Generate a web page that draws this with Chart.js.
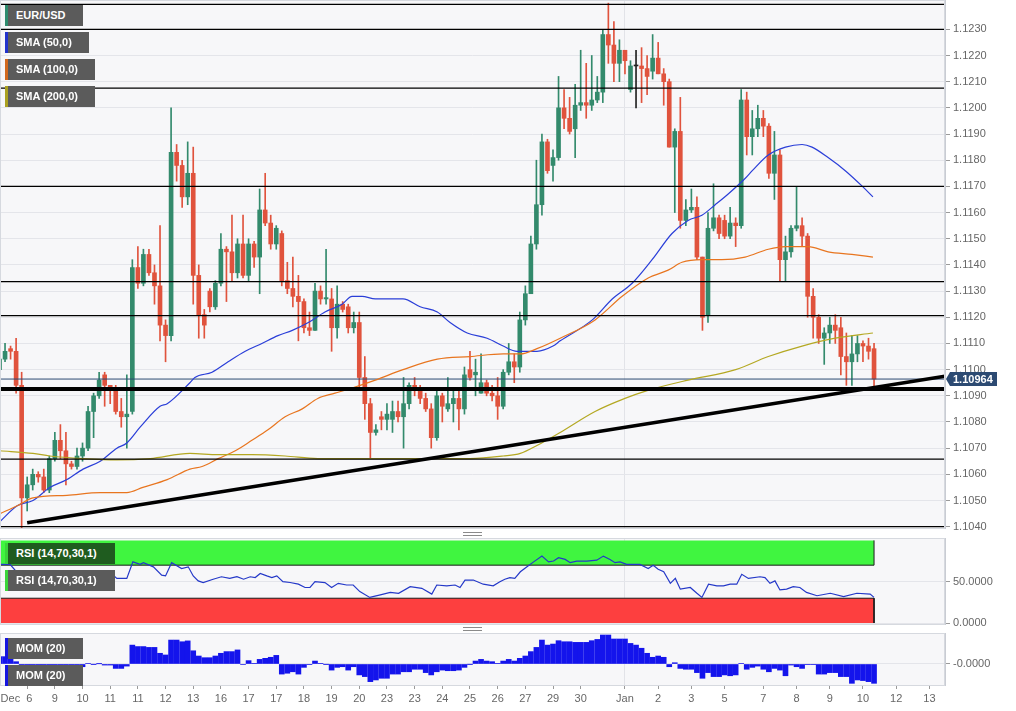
<!DOCTYPE html>
<html><head>
<meta charset="UTF-8">
<title>EUR/USD 4H with SMA, RSI and MOM</title>
<script src="https://cdn.jsdelivr.net/npm/chart.js"></script>
<style>
  body { margin: 0; background: #fff; font-family: 'Liberation Sans', Arial, sans-serif; }
  #wrap { position: relative; width: 1016px; height: 711px; overflow: hidden; }
  #wrap canvas { position: absolute; left: 0; }
  .tag {
    position: absolute; left: 5px; height: 21px; line-height: 21px;
    padding-left: 8px; box-sizing: border-box; border-left: 3px solid;
    background: #5b5b5b; color: #fff; font-size: 11px; font-weight: bold;
    white-space: nowrap; z-index: 2;
  }
  .grip { position: absolute; left: 463px; width: 19px; height: 2px;
    border-top: 1px solid #8a8a8a; border-bottom: 1px solid #8a8a8a; }
</style>
</head>
<body>
<div id="wrap">
  <canvas id="mainChart" width="1016" height="536" style="top:0"></canvas>
  <canvas id="rsiChart" width="1016" height="100" style="top:532px"></canvas>
  <canvas id="momChart" width="1016" height="84" style="top:627px"></canvas>

  <div class="tag" style="top:5px;width:78px;border-color:#2e8b6e">EUR/USD</div>
  <div class="tag" style="top:32px;width:84px;border-color:#2233cc">SMA (50,0)</div>
  <div class="tag" style="top:59px;width:90px;border-color:#d2691e">SMA (100,0)</div>
  <div class="tag" style="top:86px;width:90px;border-color:#aaa020">SMA (200,0)</div>

  <div class="grip" style="top:532px"></div>
  <div class="tag" style="top:543px;width:110px;border-color:#3ad43a;background:#1f5c1f">RSI (14,70,30,1)</div>
  <div class="tag" style="top:570px;width:110px;border-color:#3ad43a">RSI (14,70,30,1)</div>

  <div class="grip" style="top:627px"></div>
  <div class="tag" style="top:638px;width:78px;border-color:#1515e0">MOM (20)</div>
  <div class="tag" style="top:665px;width:78px;border-color:#1515e0">MOM (20)</div>
</div>

<script>
// 4H candles, Dec 6 .. Jan 10
const candleOpen = [
  1.1100,1.1104,1.1108,1.1107,1.1094,1.1051,1.1056,1.1060,1.1059,1.1054,
  1.1066,1.1073,1.1069,1.1064,1.1063,1.1067,1.1070,1.1084,1.1090,1.1098,
  1.1094,1.1093,1.1084,1.1082,1.1084,1.1139,1.1133,1.1144,1.1137,1.1132,
  1.1117,1.1113,1.1183,1.1178,1.1166,1.1175,1.1136,1.1121,1.1130,1.1124,
  1.1133,1.1146,1.1145,1.1137,1.1148,1.1136,1.1148,1.1143,1.1161,1.1156,
  1.1148,1.1152,1.1134,1.1131,1.1128,1.1126,1.1116,1.1115,1.1130,1.1127,
  1.1127,1.1116,1.1125,1.1124,1.1116,1.1118,1.1097,1.1087,1.1076,1.1082,
  1.1081,1.1081,1.1084,1.1082,1.1087,1.1094,1.1092,1.1089,1.1085,1.1074,
  1.1090,1.1085,1.1087,1.1089,1.1085,1.1100,1.1098,1.1091,1.1095,1.1091,
  1.1090,1.1086,1.1099,1.1103,1.1101,1.1119,1.1129,1.1148,1.1163,1.1187,
  1.1178,1.1181,1.1200,1.1196,1.1192,1.1201,1.1202,1.1201,1.1203,1.1206,
  1.1228,1.1224,1.1217,1.1222,1.1207,1.1216,1.1216,1.1215,1.1214,1.1219,
  1.1213,1.1210,1.1185,1.1191,1.1157,1.1161,1.1162,1.1143,1.1121,1.1154,
  1.1158,1.1157,1.1151,1.1156,1.1155,1.1203,1.1189,1.1192,1.1196,1.1193,
  1.1175,1.1182,1.1142,1.1145,1.1154,1.1155,1.1151,1.1128,1.1120,1.1112,
  1.1114,1.1117,1.1116,1.1105,1.1103,1.1106,1.1110,1.1109,1.1108
];
const candleHigh = [
  1.1106,1.1110,1.1109,1.1112,1.1099,1.1059,1.1062,1.1061,1.1062,1.1067,
  1.1076,1.1079,1.1076,1.1065,1.1070,1.1072,1.1086,1.1091,1.1099,1.1099,
  1.1094,1.1094,1.1089,1.1098,1.1142,1.1147,1.1146,1.1146,1.1140,1.1155,
  1.1119,1.1200,1.1186,1.1180,1.1187,1.1185,1.1140,1.1123,1.1131,1.1134,
  1.1152,1.1147,1.1159,1.1150,1.1159,1.1150,1.1149,1.1169,1.1175,1.1159,
  1.1155,1.1153,1.1141,1.1143,1.1136,1.1127,1.1122,1.1133,1.1132,1.1146,
  1.1131,1.1132,1.1126,1.1125,1.1122,1.1122,1.1105,1.1089,1.1079,1.1084,
  1.1087,1.1088,1.1088,1.1097,1.1095,1.1097,1.1094,1.1091,1.1087,1.1092,
  1.1091,1.1097,1.1092,1.1092,1.1101,1.1107,1.1104,1.1106,1.1096,1.1094,
  1.1097,1.1100,1.1110,1.1106,1.1122,1.1132,1.1151,1.1180,1.1190,1.1188,
  1.1184,1.1212,1.1207,1.1204,1.1209,1.1222,1.1217,1.1220,1.1212,1.1230,
  1.1240,1.1233,1.1226,1.1222,1.1218,1.1222,1.1223,1.1220,1.1228,1.1225,
  1.1215,1.1211,1.1192,1.1204,1.1165,1.1169,1.1166,1.1143,1.1160,1.1171,
  1.1159,1.1159,1.1162,1.1158,1.1207,1.1206,1.1199,1.1201,1.1199,1.1194,
  1.1191,1.1184,1.1151,1.1155,1.1170,1.1158,1.1152,1.1131,1.1121,1.1116,
  1.1120,1.1121,1.1120,1.1114,1.1113,1.1113,1.1111,1.1112,1.1110
];
const candleLow = [
  1.1098,1.1103,1.1104,1.1091,1.1039,1.1046,1.1054,1.1057,1.1053,1.1053,
  1.1065,1.1066,1.1056,1.1062,1.1062,1.1065,1.1069,1.1074,1.1089,1.1086,
  1.1087,1.1083,1.1078,1.1070,1.1083,1.1131,1.1132,1.1136,1.1125,1.1111,
  1.1103,1.1111,1.1172,1.1162,1.1163,1.1125,1.1112,1.1112,1.1122,1.1123,
  1.1132,1.1126,1.1134,1.1135,1.1135,1.1134,1.1139,1.1129,1.1155,1.1146,
  1.1146,1.1132,1.1129,1.1124,1.1111,1.1114,1.1113,1.1115,1.1125,1.1125,
  1.1107,1.1112,1.1122,1.1114,1.1114,1.1092,1.1081,1.1066,1.1075,1.1077,
  1.1077,1.1076,1.1080,1.1070,1.1085,1.1090,1.1087,1.1084,1.1070,1.1073,
  1.1080,1.1084,1.1080,1.1077,1.1083,1.1096,1.1090,1.1091,1.1090,1.1088,
  1.1081,1.1085,1.1098,1.1095,1.1099,1.1117,1.1129,1.1146,1.1159,1.1175,
  1.1172,1.1180,1.1192,1.1190,1.1181,1.1199,1.1196,1.1199,1.1202,1.1202,
  1.1217,1.1210,1.1210,1.1213,1.1206,1.1200,1.1202,1.1205,1.1211,1.1213,
  1.1201,1.1185,1.1160,1.1154,1.1155,1.1160,1.1142,1.1115,1.1118,1.1153,
  1.1150,1.1150,1.1150,1.1147,1.1154,1.1182,1.1182,1.1189,1.1189,1.1173,
  1.1165,1.1134,1.1134,1.1143,1.1153,1.1147,1.1120,1.1112,1.1110,1.1102,
  1.1110,1.1110,1.1098,1.1094,1.1094,1.1103,1.1103,1.1104,1.1092
];
const candleClose = [
  1.1104,1.1107,1.1107,1.1094,1.1051,1.1056,1.1060,1.1059,1.1054,1.1066,
  1.1073,1.1069,1.1064,1.1063,1.1067,1.1070,1.1084,1.1090,1.1096,1.1094,
  1.1093,1.1084,1.1082,1.1083,1.1139,1.1133,1.1144,1.1137,1.1132,1.1117,
  1.1113,1.1183,1.1178,1.1166,1.1175,1.1136,1.1121,1.1117,1.1124,1.1133,
  1.1146,1.1145,1.1137,1.1148,1.1136,1.1148,1.1143,1.1161,1.1156,1.1148,
  1.1154,1.1134,1.1131,1.1128,1.1126,1.1116,1.1115,1.1130,1.1127,1.11275,
  1.1116,1.1125,1.1123,1.1116,1.1118,1.1097,1.1087,1.1076,1.1077,1.1081,
  1.1083,1.1084,1.1082,1.1087,1.1094,1.1092,1.1089,1.1085,1.1074,1.1090,
  1.1086,1.1087,1.1089,1.1085,1.1098,1.1097,1.1099,1.1095,1.1091,1.1090,
  1.1086,1.1099,1.1103,1.1101,1.1119,1.1129,1.1148,1.1163,1.1187,1.1176,
  1.1181,1.1200,1.1196,1.1191,1.1201,1.1202,1.1201,1.1203,1.1206,1.1228,
  1.1224,1.1217,1.1222,1.1218,1.1216,1.1216,1.1215,1.1212,1.1219,1.1213,
  1.1210,1.1185,1.1191,1.1157,1.1161,1.1162,1.1143,1.1120,1.1154,1.1158,
  1.1152,1.1151,1.1156,1.1155,1.1203,1.1189,1.1192,1.1196,1.1193,1.1175,
  1.1182,1.1142,1.1145,1.1154,1.1155,1.1151,1.1128,1.1120,1.1112,1.1114,
  1.1117,1.1115,1.1105,1.1103,1.1106,1.1110,1.1109,1.1107,1.10964
];

// moving averages, read at points along each line (x = candle index)
const sma50X = [0.1,3.2,6.05,9.1,12.2,15.1,18.2,21.2,23,25.4,29,30.3,34.4,35.3,38.4,41.3,44.4,47.4,50.3,52.9,
  55.8,58.8,61.9,63.7,65.5,67.9,70,72.9,76,79.1,81.4,84.5,88.1,91,93.5,97.1,100,101.3,107.1,110.7,
  114.3,117.9,121.5,124.4,126.9,129.3,131.6,134.7,136,138.9,142,145,146.8,149.7,152.8,155.9,157.8];
const sma50Y = [1.1042,1.1048,1.1050,1.1055,1.1058,1.1062,1.1065,1.1070,1.1072,1.1078,1.1086,1.1087,1.1095,1.1097,1.1099,1.1103,1.1107,1.1110,1.1113,1.1115,
  1.1118,1.1122,1.1125,1.1128,1.1128,1.1127,1.1127,1.1127,1.1124,1.1122,1.1118,1.1114,1.1112,1.1109,1.1107,1.1107,1.1109,1.1111,1.1119,1.1127,
  1.1133,1.1142,1.1152,1.1157,1.1159,1.1163,1.1167,1.1173,1.1176,1.1182,1.1185,1.1186,1.1185,1.1181,1.1176,1.1170,1.1166];
const sma100X = [0.1,3.2,6.05,12.2,18.2,23,25.9,30.3,34.4,36.6,39.5,42.6,45.6,48.5,51.6,54.7,57.5,60.6,63.7,67.9,
  72.9,79.1,85,91,94.1,97.1,101.3,107.6,112.5,117.2,120.8,123.3,126.9,130.5,134.7,138.9,142,146.1,149.7,154,157.8];
const sma100Y = [1.1045,1.1048,1.1051,1.1052,1.1053,1.1053,1.1055,1.1058,1.1062,1.1063,1.1066,1.1069,1.1073,1.1077,1.1082,1.1085,1.1089,1.1091,1.1093,1.1096,
  1.1100,1.1104,1.1105,1.1106,1.1106,1.1108,1.1112,1.1119,1.1128,1.1135,1.1138,1.1141,1.1142,1.1142,1.1143,1.1146,1.1147,1.1147,1.1145,1.1144,1.1143];
const sma200X = [0.1,6.05,9.1,15.1,21.2,27.2,34.4,39.5,45.6,51.6,57.5,63.7,70,78,85,91,94.1,97.1,101.3,107.6,
  113,117,124.4,133,138.9,145,151,157.8];
const sma200Y = [1.1069,1.1068,1.1067,1.1066,1.10655,1.1066,1.1068,1.10675,1.10675,1.1067,1.1066,1.1066,1.1066,1.1066,1.1066,1.1067,1.1068,1.1071,1.1076,1.1084,
  1.1089,1.1092,1.1096,1.1100,1.1105,1.1109,1.1112,1.1114];

// drawn support / resistance levels and the rising trend line
const levelPrices = [1.12395, 1.1230, 1.12075, 1.1170, 1.11336, 1.11206, 1.10926, 1.10658, 1.1040];
const keyLevel = 1.10926;
const trendX = [5, 170.8];
const trendY = [1.10415, 1.10975];

// RSI (14) read at points along the line
const rsiX = [0.1,1.9,2.8,4.0,4.9,6.1,7.9,9.1,10.9,13.3,15.8,18.2,20,21.2,23,24.1,25.4,26,27.8,29.3,
  30,31.1,32.9,34.1,35,35.9,36.8,38.6,40.1,41.6,42.9,44.1,45.3,46.2,47.1,48.3,49.2,50.1,51.2,52.5,
  54,55.2,56.1,57,58.8,60,61.2,62.7,63.9,65.1,66.9,68.8,70.6,72.1,74.2,76.3,78.1,79,80.8,82.3,
  83.2,84.1,85.6,87.4,89.2,90.4,91.3,92.2,93.1,94.1,95.3,96.5,98,99.2,100.1,101,102.2,103.1,104.3,106.1,
  107.9,109.1,110.3,111.2,112.1,113.3,115.7,117.2,118.1,119,120,121.2,122.1,123,124.8,126,126.9,128.1,129.6,130.8,
  132,133.2,134.1,135.3,137.4,138.3,139.2,140.1,141,142.2,143.4,144.6,145.8,147.7,150.1,152.5,154.9,157.3,158];
const rsiY = [71,71,64,40,44,45,42,48,52,56,61,63,61,54,54,74,71,73,68,58,
  57,73,66,68,57,51,49,53,56,54,56,53,56,55,60,57,55,57,50,49,
  47,43,43,50,49,43,48,46,46,38,31,34,37,36,44,42,35,46,45,46,
  43,52,52,47,45,50,53,55,54,62,68,74,81,74,75,79,77,73,75,75,
  76,81,77,73,74,71,71,66,70,65,62,48,54,41,43,36,31,47,45,45,
  47,47,59,54,56,55,48,51,40,41,44,43,37,33,36,32,36,35,31];
const rsiBands = { upper: 70, lower: 30, top: 100, bottom: 0 };

// MOM (20), in pips, one bar per candle
const momValues = [
  35,35,27,11,-21,-21,-19,-21,-25,-18,
  -5,-5,-21,-13,-13,-13,2,-1,1,-5,
  -5,-21,-21,-10,90,83,83,79,79,51,
  43,114,114,106,110,63,38,30,30,38,
  51,59,59,67,-2,16,3,22,27,32,
  41,-48,-44,-37,-48,-16,-3,14,3,-1,
  -29,-16,-13,-29,-13,-52,-60,-84,-76,-68,
  -68,-48,-48,-37,-37,-25,-25,-41,-52,-37,
  -29,-32,-32,-29,-16,-1,14,22,14,11,
  3,14,22,14,27,38,59,79,114,90,
  95,111,106,106,103,103,103,111,117,138,
  138,119,119,119,98,90,75,51,32,38,
  32,-13,6,-21,-25,-25,-41,-68,-41,-60,
  -60,-52,-56,-52,2,-25,-16,-10,-25,-37,
  -21,-29,-56,-5,-13,-21,-3,-3,-48,-48,
  -41,-41,-60,-60,-92,-76,-79,-84,-92
];

// axis ticks
const priceTicks = [1.1040,1.1050,1.1060,1.1070,1.1080,1.1090,1.1100,1.1110,1.1120,1.1130,
  1.1140,1.1150,1.1160,1.1170,1.1180,1.1190,1.1200,1.1210,1.1220,1.1230];
const rsiTicks = [0, 50];
const momTicks = [0];
const momTickLabels = ['-0.0000'];
const dayTicks = [5,10,15,20,25,30,35,40,45,50,55,60,65,70,75,80,85,90,95,100,105,113,119,125,131,138,144,150,156,162,168];
// the first label sits left of its tick, hence the trailing spaces
const dayLabels = ['Dec  6       ','9','10','11','11','12','13','16','17','17','18','19','20','23','23','24','25','26','27','29','30','Jan','2','3','5','7','8','9','10','12','13'];
const janTick = 113;

const xMin = 0.09, xMax = 170.82;
const GREEN = '#338a6c', RED = '#e0533d', DOJI = '#222';

Chart.defaults.font.family = "'Liberation Sans', Arial, sans-serif";
Chart.defaults.font.size = 11;
Chart.defaults.color = '#666';

const zip = (xs, ys) => xs.map((x, i) => ({ x: x, y: ys[i] }));
const lastPrice = candleClose[candleClose.length - 1];

const panelBg = {
  id: 'panelBg',
  beforeDraw(chart) {
    const a = chart.chartArea, ctx = chart.ctx;
    ctx.save();
    ctx.fillStyle = '#f7f7f9';
    ctx.fillRect(a.left, a.top, a.right - a.left, a.bottom - a.top);
    ctx.restore();
  },
  afterDraw(chart) {
    const a = chart.chartArea, ctx = chart.ctx;
    ctx.save();
    ctx.strokeStyle = '#d6d9df';
    ctx.lineWidth = 1;
    ctx.strokeRect(a.left + 0.5, a.top + 0.5, a.right - a.left - 1, a.bottom - a.top);
    ctx.restore();
  }
};

const priceTag = {
  id: 'priceTag',
  afterDraw(chart) {
    const y = chart.scales.y.getPixelForValue(lastPrice);
    const x0 = chart.chartArea.right + 1;
    const ctx = chart.ctx;
    ctx.save();
    ctx.fillStyle = '#2c4a72';
    ctx.beginPath();
    ctx.moveTo(x0, y);
    ctx.lineTo(x0 + 4, y - 7);
    ctx.lineTo(x0 + 51, y - 7);
    ctx.lineTo(x0 + 51, y + 7);
    ctx.lineTo(x0 + 4, y + 7);
    ctx.closePath();
    ctx.fill();
    ctx.fillStyle = '#fff';
    ctx.font = "bold 11px 'Liberation Sans', Arial, sans-serif";
    ctx.textBaseline = 'middle';
    ctx.fillText(lastPrice.toFixed(5), x0 + 7, y + 0.5);
    ctx.restore();
  }
};

function yAxis(min, max, tickVals, fmt) {
  return {
    type: 'linear', position: 'right', min: min, max: max,
    afterBuildTicks: s => { s.ticks = tickVals.map(v => ({ value: v })); },
    afterFit: s => { s.width = 71; s.paddingTop = 0; s.paddingBottom = 0; },
    grid: { color: '#e4e5ea', tickColor: '#9a9a9a', tickLength: 5 },
    border: { display: true, color: '#c9ccd3' },
    ticks: { color: '#666', padding: 3, callback: fmt }
  };
}

function xAxis(withLabels, height) {
  return {
    type: 'linear', min: xMin, max: xMax, offset: false,
    afterBuildTicks: s => { s.ticks = (withLabels ? dayTicks : [janTick]).map(v => ({ value: v })); },
    afterFit: s => { s.height = height; s.paddingLeft = 0; s.paddingRight = 0; },
    grid: {
      offset: false,
      color: c => (c.tick && c.tick.value === janTick) ? '#e2e3e8' : 'rgba(0,0,0,0)',
      drawTicks: withLabels, tickLength: 4, tickColor: '#9a9a9a'
    },
    border: { display: withLabels, color: '#c9ccd3' },
    ticks: { display: withLabels, color: '#666', padding: 3, maxRotation: 0, autoSkip: false,
      callback: (v, i) => dayLabels[i] }
  };
}

function flatLine(y, color, width, order) {
  return {
    type: 'line', data: [{ x: xMin, y: y }, { x: xMax, y: y }],
    borderColor: color, borderWidth: width, pointRadius: 0, fill: false, order: order
  };
}

// ---- main price chart ----
const candleColor = candleOpen.map((o, i) => candleClose[i] > o ? GREEN : (candleClose[i] < o ? RED : DOJI));
const bodies = candleOpen.map((o, i) => ({ x: i, y: [o, candleClose[i]] }));
const wicks = candleOpen.map((o, i) => ({ x: i, y: [candleLow[i], candleHigh[i]] }));

const mainSets = [
  { type: 'bar', data: wicks, backgroundColor: candleColor, barThickness: 1, maxBarThickness: 1,
    grouped: false, order: 6 },
  { type: 'bar', data: bodies, backgroundColor: candleColor, barThickness: 4, maxBarThickness: 4,
    grouped: false, minBarLength: 1, order: 5 },
  flatLine(lastPrice, '#2c4a72', 1, 4),
  { type: 'line', data: zip(sma200X, sma200Y), borderColor: '#b4a822', borderWidth: 1.2, pointRadius: 0,
    cubicInterpolationMode: 'monotone', order: 3 },
  { type: 'line', data: zip(sma100X, sma100Y), borderColor: '#e8751f', borderWidth: 1.2, pointRadius: 0,
    cubicInterpolationMode: 'monotone', order: 3 },
  { type: 'line', data: zip(sma50X, sma50Y), borderColor: '#2a3ed8', borderWidth: 1.2, pointRadius: 0,
    cubicInterpolationMode: 'monotone', order: 3 }
];
levelPrices.forEach(p => mainSets.push(flatLine(p, '#000', p === keyLevel ? 4 : 1.3, 2)));
mainSets.push({ type: 'line', data: zip(trendX, trendY), borderColor: '#000', borderWidth: 3.5,
  pointRadius: 0, order: 1 });

new Chart(document.getElementById('mainChart'), {
  type: 'bar',
  data: { datasets: mainSets },
  options: {
    responsive: false, animation: false,
    layout: { padding: { top: 0, bottom: 8, left: 0, right: 0 } },
    plugins: { legend: { display: false }, tooltip: { enabled: false } },
    scales: {
      x: xAxis(false, 0),
      y: yAxis(1.10395, 1.12412, priceTicks, v => v.toFixed(4))
    }
  },
  plugins: [panelBg, priceTag]
});

// ---- RSI ----
new Chart(document.getElementById('rsiChart'), {
  type: 'line',
  data: { datasets: [
    { data: [{ x: xMin, y: rsiBands.upper }, { x: 158, y: rsiBands.upper }, { x: 158, y: rsiBands.top }],
      borderColor: '#1a1a1a', borderWidth: 1, backgroundColor: '#40f540', fill: { value: rsiBands.top },
      pointRadius: 0, order: 3 },
    { data: [{ x: xMin, y: rsiBands.lower }, { x: 158, y: rsiBands.lower }, { x: 158, y: rsiBands.bottom }],
      borderColor: '#1a1a1a', borderWidth: 1, backgroundColor: '#fd3f3f', fill: { value: rsiBands.bottom },
      pointRadius: 0, order: 2 },
    { data: zip(rsiX, rsiY), borderColor: '#2438c8', borderWidth: 1.2, pointRadius: 0, fill: false,
      order: 1 }
  ] },
  options: {
    responsive: false, animation: false,
    layout: { padding: { top: 6, bottom: 8, left: 0, right: 0 } },
    plugins: { legend: { display: false }, tooltip: { enabled: false } },
    scales: {
      x: xAxis(false, 0),
      y: yAxis(-1.2, 102.9, rsiTicks, v => v.toFixed(4))
    }
  },
  plugins: [panelBg]
});

// ---- MOM ----
new Chart(document.getElementById('momChart'), {
  type: 'bar',
  data: { datasets: [
    { data: momValues.map((v, i) => ({ x: i, y: v })), backgroundColor: '#1414ec',
      barThickness: 5, maxBarThickness: 5, grouped: false }
  ] },
  options: {
    responsive: false, animation: false,
    layout: { padding: { top: 6, bottom: 0, left: 0, right: 0 } },
    plugins: { legend: { display: false }, tooltip: { enabled: false } },
    scales: {
      x: xAxis(true, 26),
      y: yAxis(-100, 147.6, momTicks, (v, i) => momTickLabels[i])
    }
  },
  plugins: [panelBg]
});
</script>
</body>
</html>
